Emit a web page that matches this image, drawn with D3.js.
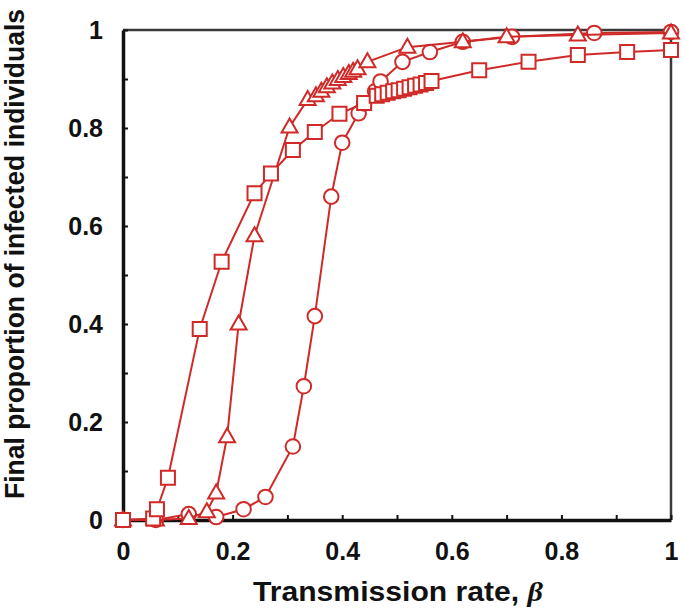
<!DOCTYPE html>
<html>
<head>
<meta charset="utf-8">
<script src="https://cdn.jsdelivr.net/npm/d3@7"></script>
<style>
  body { margin: 0; background: #fff; }
  svg { display: block; }
  text { font-family: "Liberation Sans", Arial, sans-serif; font-weight: bold; }
</style>
</head>
<body>
<svg id="chart" width="685" height="614"></svg>
<script>
// values
var squareX = [0, 0.055, 0.062, 0.082, 0.14, 0.18, 0.24, 0.27, 0.31, 0.35, 0.395, 0.44,
    0.463, 0.473, 0.483, 0.493, 0.503, 0.513, 0.523, 0.533, 0.543, 0.553, 0.563,
    0.65, 0.74, 0.83, 0.92, 1.0];
var squareY = [0, 0.003, 0.022, 0.086, 0.39, 0.527, 0.667, 0.707, 0.755, 0.792, 0.829, 0.851,
    0.866, 0.869, 0.872, 0.875, 0.877, 0.880, 0.883, 0.886, 0.889, 0.892, 0.896,
    0.918, 0.935, 0.949, 0.955, 0.959];

var triangleX = [0, 0.06, 0.12, 0.153, 0.17, 0.19, 0.211, 0.24, 0.304, 0.337,
    0.352, 0.362, 0.372, 0.382, 0.392, 0.402, 0.412, 0.42, 0.428, 0.446, 0.519, 0.62, 0.70, 0.83, 1.0];
var triangleY = [0, 0, 0.003, 0.017, 0.055, 0.17, 0.40, 0.58, 0.802, 0.858,
    0.866, 0.875, 0.884, 0.892, 0.899, 0.905, 0.911, 0.916, 0.921, 0.935, 0.965, 0.976, 0.986, 0.99, 0.994];

var circleX = [0, 0.06, 0.12, 0.17, 0.22, 0.26, 0.31, 0.33, 0.35, 0.38, 0.40, 0.43, 0.44,
    0.46, 0.47, 0.51, 0.56, 0.62, 0.71, 0.86, 1.0];
var circleY = [0, 0, 0.012, 0.006, 0.022, 0.047, 0.15, 0.273, 0.416, 0.66, 0.77, 0.83, 0.85,
    0.875, 0.895, 0.935, 0.955, 0.976, 0.986, 0.994, 0.996];

var majorTicks = [0, 0.2, 0.4, 0.6, 0.8, 1];
var tickLabels = ['0', '0.2', '0.4', '0.6', '0.8', '1'];
var minorTicks = [0.1, 0.3, 0.5, 0.7, 0.9];

var xTitle = 'Transmission rate, ';
var yTitle = 'Final proportion of infected individuals';

var red = '#cf2a27';

var svg = d3.select('#chart');
var plotLeft = 123, plotRight = 671, plotTop = 30, plotBottom = 520;

var x = d3.scaleLinear().domain([0, 1]).range([plotLeft, plotRight]);
var y = d3.scaleLinear().domain([0, 1]).range([plotBottom, plotTop]);

// frame (top and right sides)
svg.append('path')
    .attr('d', 'M' + plotLeft + ',' + plotTop + 'H' + plotRight + 'V' + plotBottom)
    .attr('fill', 'none')
    .attr('stroke', '#3a3a3a')
    .attr('stroke-width', 2.5);

function fmt(d) { return tickLabels[majorTicks.indexOf(d)]; }

// axes, ticks pointing inward
var xAxis = svg.append('g')
    .attr('transform', 'translate(0,' + plotBottom + ')')
    .call(d3.axisBottom(x).tickValues(majorTicks.concat(minorTicks))
        .tickFormat(function (d) { return majorTicks.indexOf(d) >= 0 ? fmt(d) : ''; })
        .tickSizeInner(-5).tickSizeOuter(0).tickPadding(22));

var yAxis = svg.append('g')
    .attr('transform', 'translate(' + plotLeft + ',0)')
    .call(d3.axisLeft(y).tickValues(majorTicks.concat(minorTicks))
        .tickFormat(function (d) { return majorTicks.indexOf(d) >= 0 ? fmt(d) : ''; })
        .tickSizeInner(-5).tickSizeOuter(0).tickPadding(20));

[xAxis, yAxis].forEach(function (g) {
    g.select('.domain').attr('stroke', '#111').attr('stroke-width', 3.5);
    g.selectAll('.tick line').attr('stroke', '#111').attr('stroke-width', 2);
    g.selectAll('.tick text')
        .attr('fill', '#111')
        .style('font-size', '25px')
        .style('font-family', '"Liberation Sans", Arial, sans-serif')
        .style('font-weight', 'bold');
});

// axis titles
var xt = svg.append('text')
    .attr('x', 398)
    .attr('y', 601)
    .attr('text-anchor', 'middle')
    .attr('fill', '#111')
    .style('font-size', '27px')
    .attr('textLength', 290)
    .attr('lengthAdjust', 'spacingAndGlyphs')
    .text(xTitle);
xt.append('tspan').style('font-style', 'italic').style('font-family', '"Liberation Serif", serif').text('\u03b2');

svg.append('text')
    .attr('transform', 'translate(24,254) rotate(-90)')
    .attr('text-anchor', 'middle')
    .attr('fill', '#111')
    .style('font-size', '27px')
    .attr('textLength', 490)
    .attr('lengthAdjust', 'spacingAndGlyphs')
    .text(yTitle);

var line = d3.line()
    .x(function (d) { return x(d[0]); })
    .y(function (d) { return y(d[1]); });

function series(xs, ys, shape) {
    var pts = d3.zip(xs, ys);
    var g = svg.append('g');
    g.append('path')
        .datum(pts)
        .attr('d', line)
        .attr('fill', 'none')
        .attr('stroke', red)
        .attr('stroke-width', 2);
    g.selectAll('path.mark')
        .data(pts)
        .enter()
        .append('path')
        .attr('class', 'mark')
        .attr('d', shape)
        .attr('transform', function (d) { return 'translate(' + x(d[0]) + ',' + y(d[1]) + ')'; })
        .attr('fill', '#fff')
        .attr('stroke', red)
        .attr('stroke-width', 2);
}

var circleShape = d3.symbol().type(d3.symbolCircle).size(Math.PI * 7.3 * 7.3)();
var squareShape = d3.symbol().type(d3.symbolSquare).size(14 * 14)();
var triangleShape = 'M0,-8.5L8,5.5L-8,5.5Z';

series(circleX, circleY, circleShape);
series(triangleX, triangleY, triangleShape);
series(squareX, squareY, squareShape);
</script>
</body>
</html>
